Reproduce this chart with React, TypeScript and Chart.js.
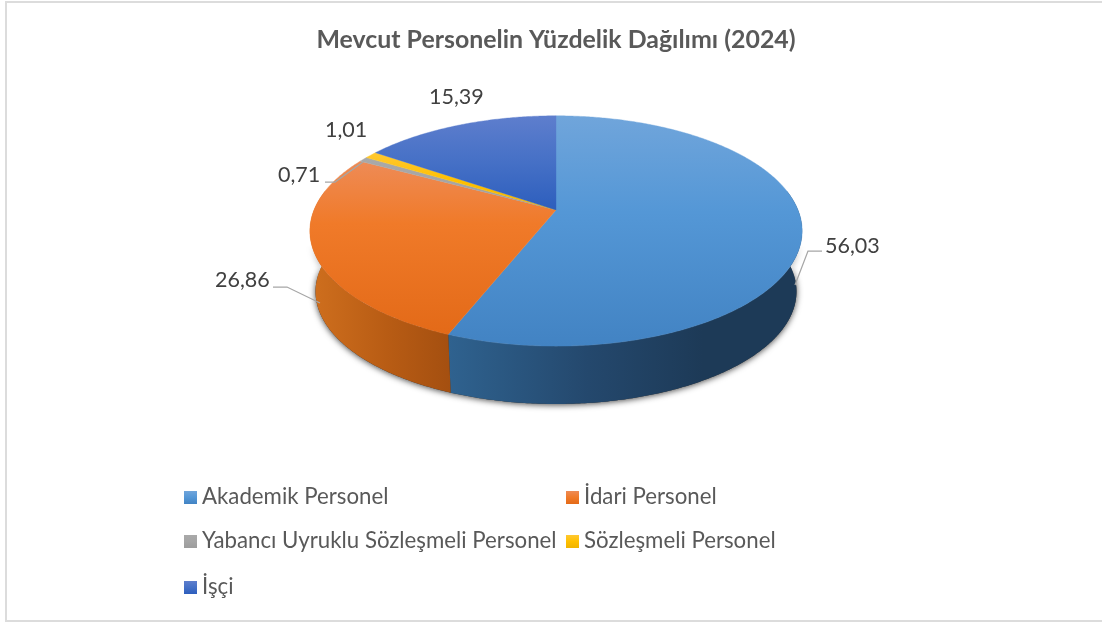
import React, { useEffect, useRef } from "react";
import { Chart, registerables } from "chart.js";

Chart.register(...registerables);

const titleText = "Mevcut Personelin Yüzdelik Dağılımı (2024)";
const categories = [
  "Akademik Personel",
  "İdari Personel",
  "Yabancı Uyruklu Sözleşmeli Personel",
  "Sözleşmeli Personel",
  "İşçi",
];
const values = [56.03, 26.86, 0.71, 1.01, 15.39];
const faceTop = ["#70a5db", "#ee8b56", "#a9a9a9", "#ffc832", "#5e7ecd"];
const faceMid = ["#5497d6", "#f07a29", "#a5a5a5", "#ffc000", "#4570c6"];
const faceEnd = ["#4283c3", "#e36a18", "#9c9c9c", "#f0b400", "#2d5ebd"];
const faceMidStop = [0.42, 0.36, 0.5, 0.5, 0.5];
const sideLeft = ["#2f628f", "#cf6f1e", "#8a8a8a", "#b08500", "#2a5090"];
const sideMid = ["#24486d", "#b85c14", "#707070", "#906c00", "#23447a"];
const sideRight = ["#1d3a57", "#a44f10", "#606060", "#806000", "#1f3c6c"];
const sideRightStop = [0.72, 1, 1, 1, 1];
const labelBoxes = [
  { x: 825, y: 246 },
  { x: 215, y: 280 },
  { x: 278, y: 175 },
  { x: 325, y: 130 },
  { x: 429, y: 97 },
];
const leaders: (number[][] | null)[] = [
  [[822, 251], [808, 251], [795, 285]],
  [[273, 287], [287, 287], [320, 303]],
  [[325, 182], [335, 182], [363, 162]],
  null,
  null,
];
const legendSlots = [
  { x: 184, y: 497 },
  { x: 566, y: 497 },
  { x: 184, y: 541 },
  { x: 566, y: 541 },
  { x: 184, y: 587 },
];

const FONT = "Lato, Carlito, Calibri, sans-serif";
const K = 0.1826; // perspective strength
const YR = 0.46; // vertical foreshortening relative to radius
const DEPTH_SCALE = 0.977;
const DEPTH_Y = 61;

const threeD = {
  id: "threeD",
  beforeDatasetsDraw(chart: any) {
    const { ctx } = chart;
    const arcs = chart.getDatasetMeta(0).data;
    const cx = arcs[0].x;
    const cy = arcs[0].y;
    const r = arcs[0].outerRadius;

    const rim = (theta: number, lower: boolean) => {
      const u = Math.sin(theta);
      const v = Math.cos(theta);
      const w = 1 + K * v;
      const s = lower ? DEPTH_SCALE : 1;
      return {
        x: cx + (s * r * u) / w,
        y: cy + (lower ? DEPTH_Y : 0) - (s * r * YR * v) / w,
      };
    };
    const sample = (a: number, b: number, lower: boolean) => {
      const n = Math.max(2, Math.ceil(Math.abs(b - a) / 0.01));
      const out = [];
      for (let i = 0; i <= n; i++) out.push(rim(a + ((b - a) * i) / n, lower));
      return out;
    };
    const trace = (pts: { x: number; y: number }[]) => {
      ctx.beginPath();
      pts.forEach((p, i) => (i ? ctx.lineTo(p.x, p.y) : ctx.moveTo(p.x, p.y)));
      ctx.closePath();
    };
    const minT = (80 * Math.PI) / 180;
    const maxT = (280 * Math.PI) / 180;

    ctx.save();
    // soft shadow around the extruded silhouette
    ctx.save();
    ctx.shadowColor = "rgba(0,0,0,0.72)";
    ctx.shadowBlur = 6;
    ctx.shadowOffsetY = 1;
    ctx.fillStyle = "#333";
    trace(sample(minT, maxT, false).concat(sample(minT, maxT, true).reverse()));
    ctx.fill();
    ctx.restore();
    // fade the shadow out toward the top face
    ctx.save();
    ctx.globalCompositeOperation = "destination-out";
    const fade = ctx.createLinearGradient(0, cy + 35, 0, cy + 72);
    fade.addColorStop(0, "rgba(0,0,0,1)");
    fade.addColorStop(1, "rgba(0,0,0,0)");
    ctx.fillStyle = fade;
    ctx.fillRect(0, cy - 40, chart.width, 112);
    ctx.restore();

    // extruded sides
    arcs.forEach((arc: any, i: number) => {
      const a = Math.max(arc.startAngle + Math.PI / 2, minT);
      const b = Math.min(arc.endAngle + Math.PI / 2, maxT);
      if (b <= a) return;
      const top = sample(a, b, false);
      const low = sample(a, b, true).reverse();
      const pts = top.concat(low);
      const xs = pts.map((p) => p.x);
      const g = ctx.createLinearGradient(Math.min(...xs), 0, Math.max(...xs), 0);
      g.addColorStop(0, sideLeft[i]);
      g.addColorStop(sideRightStop[i] * 0.55, sideMid[i]);
      g.addColorStop(sideRightStop[i], sideRight[i]);
      if (sideRightStop[i] < 1) g.addColorStop(1, sideRight[i]);
      ctx.fillStyle = g;
      trace(pts);
      ctx.fill();
    });

    // top face
    arcs.forEach((arc: any, i: number) => {
      const a = arc.startAngle + Math.PI / 2;
      const b = arc.endAngle + Math.PI / 2;
      const pts = [{ x: cx, y: cy }].concat(sample(a, b, false));
      const ys = pts.map((p) => p.y);
      const g = ctx.createLinearGradient(0, Math.min(...ys), 0, Math.max(...ys));
      g.addColorStop(0, faceTop[i]);
      g.addColorStop(faceMidStop[i], faceMid[i]);
      g.addColorStop(1, faceEnd[i]);
      ctx.fillStyle = g;
      ctx.strokeStyle = g;
      ctx.lineWidth = 0.4;
      trace(pts);
      ctx.fill();
      ctx.stroke();
    });
    ctx.restore();
    return false;
  },
  afterDraw(chart: any) {
    const { ctx } = chart;
    ctx.save();
    // leader lines
    ctx.strokeStyle = "#a6a6a6";
    ctx.lineWidth = 1.25;
    leaders.forEach((l) => {
      if (!l) return;
      ctx.beginPath();
      l.forEach((p, i) => (i ? ctx.lineTo(p[0], p[1]) : ctx.moveTo(p[0], p[1])));
      ctx.stroke();
    });
    // data labels
    ctx.font = `21.5px ${FONT}`;
    ctx.fillStyle = "#404040";
    ctx.textBaseline = "middle";
    values.forEach((v, i) => {
      ctx.fillText(v.toFixed(2).replace(".", ","), labelBoxes[i].x, labelBoxes[i].y);
    });
    // legend
    ctx.font = `22.25px ${FONT}`;
    categories.forEach((c, i) => {
      const s = legendSlots[i];
      const g = ctx.createLinearGradient(0, s.y - 6, 0, s.y + 7);
      g.addColorStop(0, faceTop[i]);
      g.addColorStop(0.5, faceMid[i]);
      g.addColorStop(1, faceEnd[i]);
      ctx.fillStyle = g;
      ctx.fillRect(s.x, s.y - 6, 13, 13);
      ctx.fillStyle = "#595959";
      ctx.fillText(c, s.x + 18, s.y);
    });
    ctx.restore();
  },
};

export default function App() {
  const ref = useRef<HTMLCanvasElement>(null);
  useEffect(() => {
    const chart = new Chart(ref.current!, {
      type: "pie",
      data: {
        labels: categories,
        datasets: [{ data: values, backgroundColor: faceMid, borderWidth: 0 }],
      },
      options: {
        animation: false,
        responsive: false,
        radius: 242,
        layout: { padding: { left: 10, right: 0, top: 0, bottom: 268 } },
        plugins: {
          legend: { display: false },
          tooltip: { enabled: false },
          title: {
            display: true,
            text: titleText,
            color: "#595959",
            font: { family: FONT, size: 24.9, weight: "bold" },
            padding: { top: 25, bottom: 10 },
          },
        },
      } as any,
      plugins: [threeD],
    });
    return () => chart.destroy();
  }, []);
  return (
    <div
      style={{
        position: "fixed",
        left: 0,
        top: 0,
        width: 1102,
        height: 623,
        background: "#fff",
        overflow: "hidden",
      }}
    >
      <div
        style={{
          position: "absolute",
          left: 5,
          top: 1,
          width: 1110,
          height: 617,
          border: "2px solid #dcdcdc",
        }}
      />
      <canvas ref={ref} width={1102} height={623} style={{ position: "absolute", left: 0, top: 0 }} />
    </div>
  );
}
